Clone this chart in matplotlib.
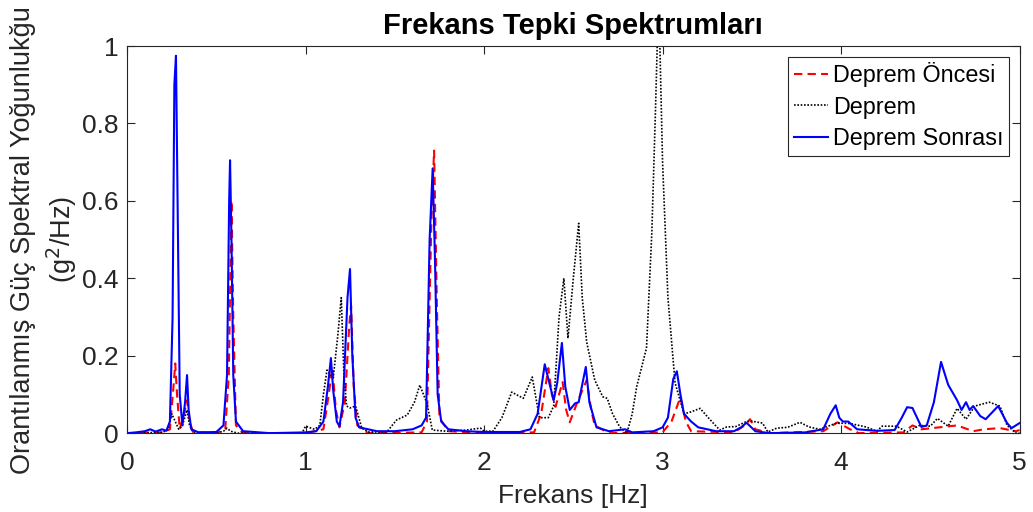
import matplotlib
matplotlib.use('Agg')
import matplotlib.pyplot as plt

#===============================================================
# Frequency response spectra (before / during / after quake)
#===============================================================

#DATA------------------------------------------------------------
f_once = [0.0, 0.2, 0.24, 0.26, 0.27, 0.28, 0.295, 0.32, 0.336, 0.35, 0.37,
          0.5, 0.55, 0.57, 0.585, 0.595, 0.61, 0.65, 1.0, 1.1, 1.13, 1.15,
          1.17, 1.19, 1.22, 1.245, 1.255, 1.27, 1.29, 1.35, 1.65, 1.68, 1.705,
          1.72, 1.735, 1.75, 1.8, 2.0, 2.28, 2.32, 2.36, 2.38, 2.4, 2.44, 2.46,
          2.48, 2.52, 2.575, 2.6, 2.62, 2.7, 3.0, 3.05, 3.1, 3.13, 3.16, 3.4,
          3.46, 3.49, 3.52, 3.6, 3.9, 3.98, 4.05, 4.1, 4.35, 4.4, 4.45, 4.55,
          4.65, 4.74, 4.8, 4.89, 4.98, 5.0]
p_once = [0.0, 0.002, 0.01, 0.12, 0.18, 0.1, 0.01, 0.05, 0.085, 0.03, 0.003,
          0.0, 0.01, 0.15, 0.6, 0.3, 0.02, 0.0, 0.0, 0.01, 0.1, 0.17,
          0.06, 0.015, 0.08, 0.28, 0.33, 0.12, 0.02, 0.0, 0.002, 0.03, 0.55,
          0.73, 0.35, 0.04, 0.005, 0.0, 0.002, 0.05, 0.168, 0.1, 0.068, 0.132, 0.06,
          0.028, 0.077, 0.137, 0.06, 0.02, 0.0, 0.002, 0.03, 0.093, 0.03, 0.005, 0.002,
          0.02, 0.036, 0.01, 0.0, 0.005, 0.028, 0.01, 0.0, 0.002, 0.02, 0.01, 0.015,
          0.02, 0.005, 0.01, 0.013, 0.005, 0.008]

f_deprem = [0.0, 0.2, 0.23, 0.25, 0.27, 0.29, 0.31, 0.336, 0.35, 0.37, 0.5,
            0.54, 0.56, 0.58, 0.62, 0.98, 1.0, 1.05, 1.08, 1.1, 1.12, 1.155,
            1.18, 1.2, 1.215, 1.23, 1.25, 1.28, 1.315, 1.35, 1.455, 1.51, 1.57,
            1.61, 1.64, 1.68, 1.71, 1.79, 1.9, 1.98, 2.0, 2.05, 2.1, 2.155,
            2.22, 2.27, 2.31, 2.36, 2.39, 2.42, 2.447, 2.47, 2.5, 2.53, 2.55,
            2.575, 2.62, 2.665, 2.69, 2.72, 2.76, 2.8, 2.83, 2.855, 2.91, 2.94,
            2.96, 2.97, 2.985, 3.0, 3.03, 3.07, 3.12, 3.16, 3.21, 3.26, 3.32,
            3.36, 3.41, 3.47, 3.5, 3.56, 3.59, 3.64, 3.7, 3.77, 3.82, 3.88,
            3.975, 4.05, 4.14, 4.2, 4.23, 4.31, 4.37, 4.44, 4.5, 4.54, 4.6,
            4.65, 4.7, 4.75, 4.83, 4.89, 4.93, 4.98, 5.0]
p_deprem = [0.0, 0.002, 0.01, 0.05, 0.03, 0.01, 0.02, 0.06, 0.02, 0.003, 0.0,
            0.005, 0.013, 0.005, 0.0, 0.0, 0.018, 0.01, 0.02, 0.1, 0.163, 0.143,
            0.25, 0.35, 0.15, 0.07, 0.065, 0.07, 0.013, 0.003, 0.003, 0.034, 0.047,
            0.08, 0.124, 0.077, 0.008, 0.005, 0.008, 0.013, 0.005, 0.005, 0.04, 0.106,
            0.09, 0.145, 0.04, 0.04, 0.07, 0.3, 0.4, 0.245, 0.4, 0.542, 0.35,
            0.235, 0.137, 0.094, 0.09, 0.05, 0.016, 0.0, 0.05, 0.12, 0.22, 0.52,
            0.83, 1.0, 1.0, 0.7, 0.35, 0.13, 0.05, 0.055, 0.064, 0.038, 0.008,
            0.016, 0.017, 0.03, 0.031, 0.026, 0.003, 0.013, 0.015, 0.028, 0.016, 0.01,
            0.026, 0.025, 0.016, 0.005, 0.018, 0.018, 0.003, 0.02, 0.018, 0.038, 0.018,
            0.064, 0.036, 0.07, 0.08, 0.07, 0.02, 0.0, 0.0]

f_sonra = [0.0, 0.05, 0.1, 0.13, 0.16, 0.196, 0.22, 0.24, 0.255, 0.265, 0.274,
           0.283, 0.295, 0.31, 0.325, 0.336, 0.345, 0.36, 0.4, 0.5, 0.54, 0.56,
           0.572, 0.577, 0.585, 0.595, 0.61, 0.65, 0.8, 1.0, 1.06, 1.1, 1.125,
           1.142, 1.155, 1.175, 1.19, 1.21, 1.235, 1.249, 1.262, 1.28, 1.3, 1.4,
           1.5, 1.6, 1.65, 1.675, 1.695, 1.712, 1.725, 1.74, 1.76, 1.8, 1.9,
           2.0, 2.2, 2.26, 2.3, 2.34, 2.36, 2.39, 2.41, 2.436, 2.455, 2.48,
           2.51, 2.53, 2.57, 2.59, 2.63, 2.7, 2.79, 2.83, 2.95, 3.0, 3.03,
           3.06, 3.08, 3.1, 3.12, 3.16, 3.2, 3.3, 3.4, 3.44, 3.47, 3.52,
           3.6, 3.8, 3.9, 3.94, 3.97, 3.99, 4.01, 4.04, 4.09, 4.2, 4.3,
           4.34, 4.37, 4.4, 4.45, 4.48, 4.52, 4.56, 4.6, 4.65, 4.675, 4.7,
           4.72, 4.74, 4.78, 4.81, 4.88, 4.93, 4.955, 5.0]
p_sonra = [0.0, 0.002, 0.005, 0.01, 0.004, 0.01, 0.006, 0.03, 0.3, 0.9, 0.975,
           0.6, 0.1, 0.02, 0.08, 0.15, 0.06, 0.01, 0.002, 0.003, 0.02, 0.15,
           0.6, 0.705, 0.5, 0.15, 0.03, 0.005, 0.0, 0.002, 0.005, 0.03, 0.12,
           0.194, 0.11, 0.03, 0.018, 0.08, 0.35, 0.424, 0.2, 0.04, 0.015, 0.005,
           0.005, 0.01, 0.02, 0.04, 0.5, 0.684, 0.45, 0.1, 0.03, 0.01, 0.005,
           0.003, 0.003, 0.01, 0.05, 0.178, 0.14, 0.085, 0.13, 0.233, 0.12, 0.06,
           0.077, 0.08, 0.171, 0.08, 0.015, 0.005, 0.01, 0.002, 0.005, 0.015, 0.04,
           0.14, 0.16, 0.1, 0.05, 0.03, 0.015, 0.005, 0.005, 0.015, 0.027, 0.005,
           0.0, 0.002, 0.01, 0.05, 0.072, 0.04, 0.03, 0.03, 0.01, 0.006, 0.008,
           0.04, 0.067, 0.065, 0.016, 0.02, 0.08, 0.184, 0.125, 0.085, 0.06, 0.08,
           0.06, 0.07, 0.044, 0.036, 0.07, 0.026, 0.013, 0.026]

x_ticks = [0, 1, 2, 3, 4, 5]
y_ticks = [0, 0.2, 0.4, 0.6, 0.8, 1.0]
y_tick_labels = ['0', '0.2', '0.4', '0.6', '0.8', '1']

#PLOTTING--------------------------------------------------------
plt.rcParams['font.family'] = ['Liberation Sans', 'DejaVu Sans']

fig = plt.figure(figsize=(10.33, 5.12), dpi=100)
ax = fig.add_axes([0.123, 0.154, 0.864, 0.756])

ax.plot(f_once, p_once, color='#ff0000', linestyle=(0, (4, 2.5)), linewidth=1.5,
        label='Deprem Öncesi')
ax.plot(f_deprem, p_deprem, color='black', linestyle=(0, (1, 1)), linewidth=1.2,
        label='Deprem')
ax.plot(f_sonra, p_sonra, color='#0000ff', linewidth=1.5, label='Deprem Sonrası')

ax.set_xlim(0, 5)
ax.set_ylim(0, 1)
ax.set_xticks(x_ticks)
ax.set_yticks(y_ticks)
ax.set_yticklabels(y_tick_labels)
ax.tick_params(direction='in', top=True, right=True, labelsize=19,
               length=6, width=0.8, colors='#262626')
ax.tick_params(axis='x', pad=13)
ax.tick_params(axis='y', pad=6)
for spine in ax.spines.values():
    spine.set_color('#262626')
    spine.set_linewidth(0.8)

ax.set_title('Frekans Tepki Spektrumları', fontsize=21, fontweight='bold', pad=9)
ax.set_xlabel('Frekans [Hz]', fontsize=19, color='#262626', labelpad=6)
ax.set_ylabel('Orantılanmış Güç Spektral Yoğunlukğu\n(g$^2$/Hz)', fontsize=19.5,
              color='#262626', labelpad=2, linespacing=1.35)

leg = ax.legend(loc='upper right', fontsize=16.8, handlelength=1.45,
                handletextpad=0.2, borderpad=0.25, labelspacing=0.35,
                fancybox=False, framealpha=1, edgecolor='#262626',
                borderaxespad=0.45)
leg.get_frame().set_linewidth(0.8)

fig.savefig('out.png', dpi=100)
